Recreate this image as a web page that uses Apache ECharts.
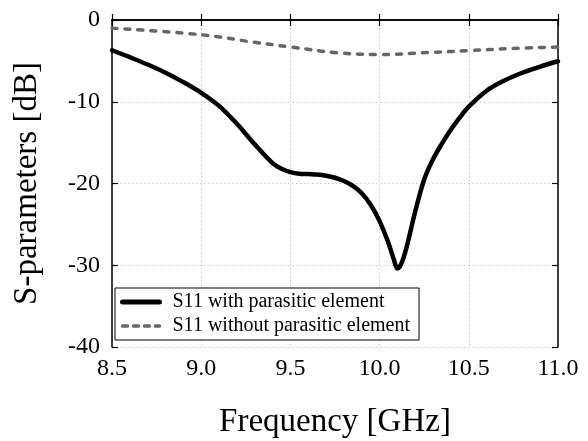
<!DOCTYPE html>
<html>
<head>
<meta charset="utf-8">
<script src="https://cdn.jsdelivr.net/npm/echarts@6/dist/echarts.min.js"></script>
<style>html,body{margin:0;padding:0;background:#fff}#c{width:588px;height:441px}</style>
</head>
<body>
<div id="c"></div>
<script>
// Frequency (GHz) and S11 (dB) – with parasitic element
const freqWith = [8.50, 8.60, 8.70, 8.80, 8.90, 9.00, 9.10, 9.20, 9.30, 9.40, 9.45, 9.50, 9.55, 9.60, 9.65, 9.70, 9.75, 9.80, 9.85, 9.90, 9.95, 10.00, 10.05, 10.08, 10.10, 10.12, 10.15, 10.20, 10.25, 10.30, 10.35, 10.40, 10.45, 10.50, 10.60, 10.70, 10.80, 10.90, 11.00];
const s11With  = [-3.7, -4.55, -5.45, -6.45, -7.6, -8.9, -10.5, -12.7, -15.2, -17.5, -18.2, -18.6, -18.8, -18.85, -18.9, -19.05, -19.3, -19.7, -20.3, -21.2, -22.6, -24.6, -27.3, -29.3, -30.4, -29.9, -27.9, -23.4, -19.5, -17.0, -15.1, -13.4, -11.9, -10.6, -8.65, -7.4, -6.45, -5.7, -5.05];
// without parasitic element
const freqWithout = [8.50, 9.00, 9.29, 9.50, 9.76, 10.00, 10.27, 10.50, 10.73, 11.00];
const s11Without  = [-1.0, -1.8, -2.7, -3.3, -4.0, -4.22, -3.98, -3.75, -3.5, -3.3];
const seriesNames = ['S11 with parasitic element', 'S11 without parasitic element'];
const xTitle = 'Frequency [GHz]';
const yTitle = 'S-parameters [dB]';

const FONT = 'Liberation Serif';
const pair = (xs, ys) => xs.map((x, i) => [x, ys[i]]);

const chart = echarts.init(document.getElementById('c'), null, {renderer: 'canvas'});
const grid = {left: 112, top: 20, right: 30, bottom: 94, outerBoundsMode: 'none', containLabel: false};
const tickStyle = {show: true, inside: true, length: 6, lineStyle: {color: '#000', width: 1.2}};
const axisLine = {show: true, lineStyle: {color: '#000', width: 1.5}};
const solidStyle = {color: '#000', width: 4.5, cap: 'round', join: 'round'};
const dashStyle = {color: '#666', width: 3.5, type: [5, 8], cap: 'round'};
chart.setOption({
  animation: false,
  backgroundColor: '#fff',
  grid: grid,
  xAxis: [{
    type: 'value', min: 8.5, max: 11, interval: 0.5, position: 'bottom',
    axisLine: axisLine, axisTick: tickStyle,
    axisLabel: {color: '#000', fontFamily: FONT, fontSize: 24, margin: 10, formatter: v => v.toFixed(1)},
    splitLine: {show: true, lineStyle: {color: '#c8c8c8', type: [1.5, 2.5], width: 1}},
    name: xTitle, nameLocation: 'middle', nameGap: 59,
    nameTextStyle: {color: '#000', fontFamily: FONT, fontSize: 33}
  }, {
    type: 'value', min: 8.5, max: 11, interval: 0.5, position: 'top',
    axisLine: axisLine, axisTick: tickStyle, axisLabel: {show: false}, splitLine: {show: false}
  }],
  yAxis: [{
    type: 'value', min: -40, max: 0, interval: 10, position: 'left',
    axisLine: axisLine, axisTick: tickStyle,
    axisLabel: {color: '#000', fontFamily: FONT, fontSize: 24, margin: 12},
    splitLine: {show: true, lineStyle: {color: '#c8c8c8', type: [1.5, 2.5], width: 1}},
    name: yTitle, nameLocation: 'middle', nameGap: 68,
    nameTextStyle: {color: '#000', fontFamily: FONT, fontSize: 33}
  }, {
    type: 'value', min: -40, max: 0, interval: 10, position: 'right',
    axisLine: axisLine, axisTick: tickStyle, axisLabel: {show: false}, splitLine: {show: false}
  }],
  legend: {
    orient: 'vertical', left: 115, top: 288,
    padding: [4, 9, 4, 5], itemGap: 4, itemWidth: 37, itemHeight: 20,
    borderColor: '#000', borderWidth: 1, backgroundColor: '#fff', borderRadius: 0,
    textStyle: {color: '#000', fontFamily: FONT, fontSize: 20, padding: [0, 0, 0, 8]},
    data: [
      {name: seriesNames[0], itemStyle: {opacity: 0}, lineStyle: {width: 5, color: '#000', cap: 'round'}},
      {name: seriesNames[1], itemStyle: {opacity: 0}, lineStyle: {width: 3.5, color: '#666', type: [5, 6], cap: 'round'}}
    ]
  },
  series: [{
    name: seriesNames[0], type: 'line', data: pair(freqWith, s11With),
    symbol: 'none', smooth: 0.35, z: 3,
    lineStyle: solidStyle, itemStyle: {color: '#000'}
  }, {
    name: seriesNames[1], type: 'line', data: pair(freqWithout, s11Without),
    symbol: 'none', smooth: 0.4, z: 2,
    lineStyle: dashStyle, itemStyle: {color: '#666'}
  }]
});
</script>
</body>
</html>
